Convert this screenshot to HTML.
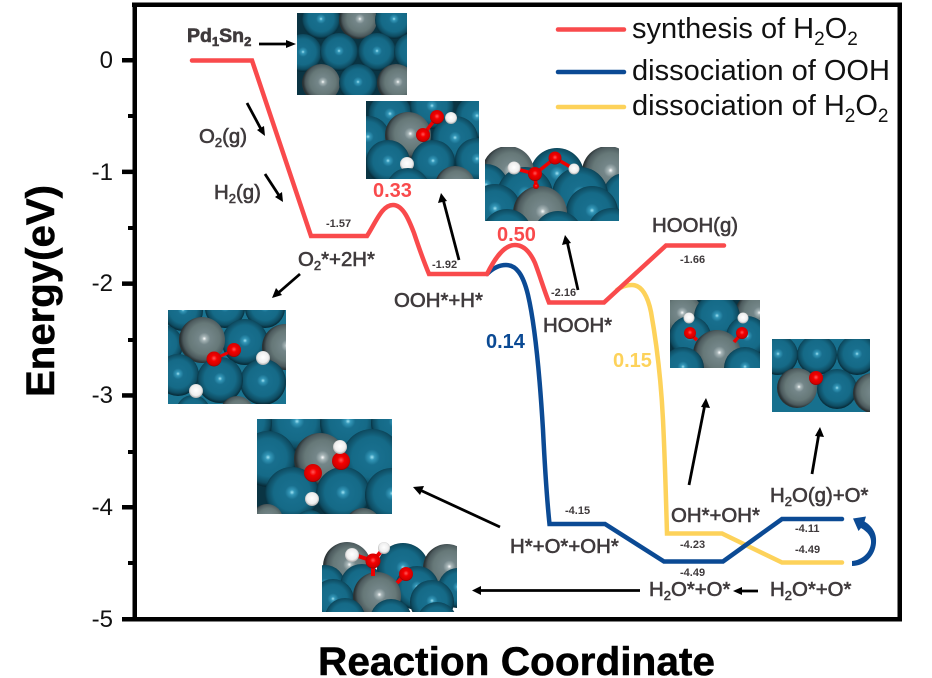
<!DOCTYPE html>
<html><head><meta charset="utf-8"><style>
html,body{margin:0;padding:0;background:#fff}
svg{display:block}
text{font-family:"Liberation Sans",sans-serif}
.l{font-size:20.4px;fill:#3f3a3c;stroke:#3f3a3c;stroke-width:.6}
.v{font-size:11px;font-weight:bold;fill:#3f3a3c}
.b{font-size:20px;font-weight:bold}
.k{font-size:24px;fill:#111;text-anchor:end}
.lg{font-size:29px;fill:#111}
.t{fill:url(#gt)}.g{fill:url(#gg)}.r{fill:url(#gr)}.w{fill:url(#gw)}
.ar{stroke:#000;stroke-width:2.8;fill:none}
</style></head><body>
<svg width="932" height="678" viewBox="0 0 932 678" xmlns="http://www.w3.org/2000/svg">
<defs>
<radialGradient id="gt" cx=".5" cy=".47" r=".52"><stop offset="0" stop-color="#9fe3f3"/><stop offset=".09" stop-color="#3497b8"/><stop offset=".25" stop-color="#186f8e"/><stop offset=".65" stop-color="#156a87"/><stop offset=".88" stop-color="#0e4c62"/><stop offset="1" stop-color="#072a37"/></radialGradient>
<radialGradient id="gg" cx=".55" cy=".47" r=".52"><stop offset="0" stop-color="#fff"/><stop offset=".09" stop-color="#a7b5b7"/><stop offset=".25" stop-color="#748689"/><stop offset=".65" stop-color="#667878"/><stop offset=".88" stop-color="#4c5a5d"/><stop offset="1" stop-color="#2a3234"/></radialGradient>
<radialGradient id="gr" cx=".5" cy=".45" r=".55"><stop offset="0" stop-color="#ff5a5a"/><stop offset=".35" stop-color="#f40000"/><stop offset=".85" stop-color="#d00000"/><stop offset="1" stop-color="#8a0000"/></radialGradient>
<radialGradient id="gw" cx=".5" cy=".45" r=".55"><stop offset="0" stop-color="#fff"/><stop offset=".7" stop-color="#eee"/><stop offset="1" stop-color="#a9a9a9"/></radialGradient>
<clipPath id="c1"><rect x="297" y="13" width="110" height="82"/></clipPath>
<clipPath id="c2"><rect x="366" y="101" width="113" height="78"/></clipPath>
<clipPath id="c3"><rect x="485" y="147" width="134" height="74"/></clipPath>
<clipPath id="c4"><rect x="670" y="300" width="90" height="68"/></clipPath>
<clipPath id="c5"><rect x="772" y="339" width="98" height="73"/></clipPath>
<clipPath id="c6"><rect x="168" y="310" width="118" height="94"/></clipPath>
<clipPath id="c7"><rect x="257" y="419" width="135" height="95"/></clipPath>
<clipPath id="c8"><rect x="322" y="542" width="135" height="70"/></clipPath>
</defs>

<!-- frame -->
<g fill="#000">
<rect x="132" y="2.5" width="770" height="4.5"/>
<rect x="132.5" y="3" width="4.5" height="618"/>
<rect x="897.5" y="3" width="4.5" height="618"/>
<rect x="122" y="617" width="780" height="4.5"/>
<rect x="122" y="58" width="11" height="4.5"/>
<rect x="122" y="169.6" width="11" height="4.5"/>
<rect x="122" y="281.4" width="11" height="4.5"/>
<rect x="122" y="393.2" width="11" height="4.5"/>
<rect x="122" y="505" width="11" height="4.5"/>
<rect x="128" y="114" width="5" height="4"/>
<rect x="128" y="226" width="5" height="4"/>
<rect x="128" y="338" width="5" height="4"/>
<rect x="128" y="450" width="5" height="4"/>
<rect x="128" y="561" width="5" height="4"/>
</g>
<text class="k" x="113" y="68">0</text>
<text class="k" x="113" y="180">-1</text>
<text class="k" x="113" y="291">-2</text>
<text class="k" x="113" y="403">-3</text>
<text class="k" x="113" y="515">-4</text>
<text class="k" x="113" y="627">-5</text>
<text transform="translate(54,397) rotate(-90)" font-size="40" font-weight="bold" fill="#000" stroke="#000" stroke-width=".5" textLength="212" lengthAdjust="spacingAndGlyphs">Energy(eV)</text>
<text x="318" y="675" font-size="40" font-weight="bold" fill="#000" stroke="#000" stroke-width=".5" textLength="397" lengthAdjust="spacingAndGlyphs">Reaction Coordinate</text>

<!-- legend -->
<g stroke-width="4.5" stroke-linecap="round">
<line x1="558" y1="29.5" x2="624" y2="29.5" stroke="#f94a4c"/>
<line x1="558" y1="72" x2="624" y2="72" stroke="#0b4a94"/>
<line x1="558" y1="107" x2="624" y2="107" stroke="#fdd25a"/>
</g>
<text class="lg" x="632" y="38">synthesis of H<tspan font-size="19" dy="7">2</tspan><tspan dy="-7">O</tspan><tspan font-size="19" dy="7">2</tspan></text>
<text class="lg" x="632" y="80">dissociation of OOH</text>
<text class="lg" x="632" y="115">dissociation of H<tspan font-size="19" dy="7">2</tspan><tspan dy="-7">O</tspan><tspan font-size="19" dy="7">2</tspan></text>

<!-- curves -->
<g fill="none" stroke-width="4.5" stroke-linejoin="miter" stroke-linecap="round">
<path stroke="#fdd25a" d="M617 290C622 286 627 285 632 285C642 285 648 297 651 312C656 340 661 380 663 420C665 460 666 500 667 533.5H722L782 562.5H842"/>
<path stroke="#0b4a94" d="M487 274C493 268 499 265 506 265C516 265 523 274 528 295C535 325 540 380 543 430C545 470 547 500 549.5 524H605L664 561.5H723L782 519H842"/>
<path stroke="#f94a4c" d="M192 60.5H252L311 236H367C376 222 382 205 393 205C403 205 409 220 414 233C419 248 424 262 429 274H487C495 258 504 245 515 245C525 245 531 254 535 263C540 276 544 290 549 302.5H604L666 245.5H724"/>
</g>

<!-- thumbnail 1 -->
<g clip-path="url(#c1)"><rect x="297" y="13" width="110" height="82" fill="#0a3443"/>
<circle class="t" cx="321" cy="20" r="19"/><circle class="g" cx="358" cy="20" r="19"/><circle class="t" cx="394" cy="20" r="19"/>
<circle class="t" cx="303" cy="53" r="19"/><circle class="t" cx="339" cy="52" r="19"/><circle class="t" cx="377" cy="52" r="19"/><circle class="t" cx="413" cy="52" r="19"/>
<circle class="g" cx="321" cy="83" r="19"/><circle class="t" cx="358" cy="83" r="19"/><circle class="g" cx="396" cy="83" r="19"/></g>

<!-- thumbnail 2 -->
<g clip-path="url(#c2)"><rect x="366" y="101" width="113" height="78" fill="#0a3443"/>
<circle class="t" cx="390" cy="115" r="22"/><circle class="t" cx="432" cy="107" r="22"/><circle class="t" cx="477" cy="117" r="22"/>
<circle class="t" cx="368" cy="138" r="22"/><circle class="t" cx="455" cy="139" r="23"/><circle class="g" cx="408" cy="135" r="23"/>
<circle class="t" cx="388" cy="162" r="22"/><circle class="t" cx="433" cy="162" r="22"/><circle class="t" cx="477" cy="160" r="22"/>
<circle class="w" cx="407" cy="164" r="7"/>
<circle class="t" cx="408" cy="190" r="22"/><circle class="g" cx="455" cy="186" r="20"/>
<line x1="423" y1="135" x2="437" y2="117" stroke="#e00" stroke-width="3.5"/>
<circle class="w" cx="451" cy="118" r="6"/><circle class="r" cx="437" cy="117" r="7"/><circle class="r" cx="423" cy="135" r="7"/></g>

<!-- thumbnail 3 -->
<g clip-path="url(#c3)">
<circle class="t" cx="557" cy="175" r="27"/><circle class="g" cx="508" cy="172" r="26"/><circle class="g" cx="608" cy="172" r="26"/>
<circle class="t" cx="486" cy="186" r="22"/><circle class="t" cx="625" cy="195" r="22"/>
<circle class="t" cx="525" cy="195" r="28"/><circle class="t" cx="580" cy="195" r="28"/>
<circle class="t" cx="495" cy="210" r="26"/><circle class="t" cx="592" cy="212" r="26"/><circle class="g" cx="540" cy="213" r="27"/>
<circle class="t" cx="507" cy="234" r="25"/><circle class="t" cx="558" cy="236" r="25"/><circle class="t" cx="612" cy="233" r="25"/>
<path d="M513 168L535 174L555 158L574 169M535 174L536 186" stroke="#e00" stroke-width="3.5" fill="none"/>
<circle class="w" cx="514" cy="168" r="6.5"/><circle class="w" cx="574" cy="169" r="5.5"/><circle class="r" cx="555" cy="158" r="6.5"/><circle class="r" cx="535" cy="174" r="7"/><circle class="r" cx="536" cy="186" r="3"/></g>

<!-- thumbnail 4 -->
<g clip-path="url(#c4)"><rect x="670" y="300" width="90" height="68" fill="#0a3443"/>
<circle class="g" cx="680" cy="314" r="22"/><circle class="g" cx="757" cy="314" r="22"/><circle class="t" cx="717" cy="317" r="23"/>
<circle class="t" cx="690" cy="337" r="21"/><circle class="t" cx="747" cy="337" r="21"/>
<circle class="g" cx="717" cy="354" r="24"/><circle class="t" cx="683" cy="368" r="21"/><circle class="t" cx="745" cy="368" r="21"/>
<path d="M689 333L697 340M742 333L734 342" stroke="#e00" stroke-width="3.5"/>
<circle class="w" cx="689" cy="318" r="5.5"/><circle class="w" cx="743" cy="318" r="5.5"/><circle class="r" cx="690" cy="333" r="6"/><circle class="r" cx="742" cy="333" r="6"/></g>

<!-- thumbnail 5 -->
<g clip-path="url(#c5)"><rect x="772" y="339" width="98" height="73" fill="#17708e"/>
<circle class="t" cx="778" cy="355" r="20"/><circle class="t" cx="817" cy="355" r="20"/><circle class="t" cx="857" cy="355" r="20"/>
<circle class="t" cx="837" cy="389" r="20"/><circle class="g" cx="797" cy="388" r="20"/><circle class="g" cx="873" cy="393" r="20"/>
<circle class="r" cx="816" cy="378" r="7"/></g>

<!-- thumbnail 6 -->
<g clip-path="url(#c6)"><rect x="168" y="310" width="118" height="94" fill="#1a7390"/>
<circle class="t" cx="183" cy="311" r="20"/><circle class="t" cx="225" cy="308" r="20"/><circle class="t" cx="265" cy="308" r="20"/>
<circle class="t" cx="163" cy="345" r="20"/><circle class="t" cx="245" cy="342" r="23"/><circle class="g" cx="202" cy="340" r="23"/><circle class="g" cx="285" cy="347" r="23"/>
<circle class="t" cx="178" cy="375" r="21"/><circle class="t" cx="263" cy="382" r="23"/><circle class="t" cx="220" cy="380" r="23"/>
<circle class="t" cx="193" cy="412" r="17"/><circle class="g" cx="237" cy="413" r="17"/>
<line x1="214" y1="359" x2="234" y2="350" stroke="#e00" stroke-width="3"/>
<circle class="r" cx="214" cy="359" r="7.5"/><circle class="r" cx="234" cy="350" r="7"/><circle class="w" cx="263" cy="358" r="7"/><circle class="w" cx="196" cy="391" r="7"/></g>

<!-- thumbnail 7 -->
<g clip-path="url(#c7)"><rect x="257" y="419" width="135" height="95" fill="#0a3443"/>
<circle class="t" cx="297" cy="423" r="28"/><circle class="t" cx="348" cy="423" r="28"/><circle class="t" cx="248" cy="423" r="24"/><circle class="t" cx="395" cy="423" r="24"/>
<circle class="t" cx="268" cy="459" r="28"/><circle class="t" cx="372" cy="459" r="30"/><circle class="g" cx="320" cy="459" r="26"/>
<circle class="t" cx="292" cy="494" r="27"/><circle class="t" cx="343" cy="494" r="27"/><circle class="t" cx="392" cy="495" r="27"/>
<circle class="g" cx="267" cy="520" r="16"/><circle class="t" cx="310" cy="526" r="16"/><circle class="g" cx="363" cy="526" r="18"/>
<circle class="r" cx="341" cy="461" r="9"/><circle class="w" cx="340" cy="447" r="7"/><circle class="r" cx="313" cy="473" r="9"/><circle class="w" cx="312" cy="499" r="7"/></g>

<!-- thumbnail 8 -->
<g clip-path="url(#c8)">
<circle class="t" cx="403" cy="569" r="26"/><circle class="g" cx="347" cy="566" r="24"/><circle class="g" cx="447" cy="568" r="24"/>
<circle class="t" cx="325" cy="585" r="20"/><circle class="t" cx="362" cy="586" r="22"/><circle class="t" cx="417" cy="588" r="22"/><circle class="t" cx="458" cy="588" r="20"/>
<circle class="t" cx="333" cy="600" r="21"/><circle class="g" cx="377" cy="596" r="24"/><circle class="t" cx="432" cy="602" r="22"/>
<circle class="t" cx="345" cy="618" r="20"/><circle class="t" cx="391" cy="620" r="21"/><circle class="t" cx="437" cy="622" r="20"/><circle class="g" cx="393" cy="628" r="14"/>
<path d="M352 554L373 561L384 548M373 561V576M406 574L397 583" stroke="#e00" stroke-width="4" fill="none"/>
<circle class="w" cx="352" cy="555" r="7"/><circle class="w" cx="384" cy="548" r="6"/><circle class="r" cx="373" cy="561" r="7.5"/><circle class="r" cx="406" cy="574" r="7"/></g>

<!-- arrows -->
<g class="ar">
<line x1="259" y1="44" x2="288" y2="44"/>
<line x1="247" y1="103" x2="262" y2="131"/>
<line x1="265" y1="174" x2="280" y2="197"/>
<line x1="459" y1="260" x2="443" y2="199"/>
<line x1="578" y1="290" x2="567" y2="241"/>
<line x1="300" y1="274" x2="277" y2="294"/>
<line x1="500" y1="527" x2="420" y2="490"/>
<line x1="640" y1="590.5" x2="479" y2="590.5"/>
<line x1="758" y1="591" x2="740" y2="591"/>
<line x1="689" y1="485" x2="705" y2="404"/>
<line x1="812" y1="474" x2="819" y2="433"/>
</g>
<g fill="#000">
<path d="M296 44L286 40V48Z"/>
<path d="M265 136L257 130L264 126Z"/>
<path d="M283 202L275 197L282 192Z"/>
<path d="M441 193L438 203L447 201Z"/>
<path d="M565 235L562 245L571 243Z"/>
<path d="M272 298L282 295L276 288Z"/>
<path d="M413 487L424 486L420 495Z"/>
<path d="M472 590.5L481 586V595Z"/>
<path d="M733 591L742 587V595Z"/>
<path d="M706 398L701 407L710 408Z"/>
<path d="M820 427L815 436L824 437Z"/>
</g>
<path fill="#0b4a94" d="M852 561C862 560 870 553 871 543C871.5 537 868 532 861 528L858.5 531L853 518.5L866 516.5L864.5 521.5C872 526 877 533 876 543C875 556 865 566 852 566Z"/>

<!-- labels -->
<text class="l" x="187" y="42" font-weight="bold" style="font-size:19.5px">Pd<tspan font-size="13" dy="4">1</tspan><tspan dy="-4">Sn</tspan><tspan font-size="13" dy="4">2</tspan></text>
<text class="l" x="199" y="143">O<tspan font-size="13" dy="4">2</tspan><tspan dy="-4">(g)</tspan></text>
<text class="l" x="214" y="199">H<tspan font-size="13" dy="4">2</tspan><tspan dy="-4">(g)</tspan></text>
<text class="l" x="298" y="266">O<tspan font-size="13" dy="4">2</tspan><tspan dy="-4">*+2H*</tspan></text>
<text class="l" x="394" y="307">OOH*+H*</text>
<text class="l" x="543" y="332">HOOH*</text>
<text class="l" x="652" y="232">HOOH(g)</text>
<text class="l" x="671" y="522">OH*+OH*</text>
<text class="l" x="770" y="502">H<tspan font-size="13" dy="4">2</tspan><tspan dy="-4">O(g)+O*</tspan></text>
<text class="l" x="510" y="553">H*+O*+OH*</text>
<text class="l" x="649" y="596">H<tspan font-size="13" dy="4">2</tspan><tspan dy="-4">O*+O*</tspan></text>
<text class="l" x="770" y="596">H<tspan font-size="13" dy="4">2</tspan><tspan dy="-4">O*+O*</tspan></text>

<text class="b" x="373" y="197" fill="#f94a4c">0.33</text>
<text class="b" x="497" y="241" fill="#f94a4c">0.50</text>
<text class="b" x="486" y="348" fill="#0b4a94">0.14</text>
<text class="b" x="613" y="367" fill="#fdd25a">0.15</text>

<text class="v" x="326" y="227">-1.57</text>
<text class="v" x="432" y="268">-1.92</text>
<text class="v" x="551" y="296">-2.16</text>
<text class="v" x="680" y="263">-1.66</text>
<text class="v" x="565" y="514">-4.15</text>
<text class="v" x="680" y="548">-4.23</text>
<text class="v" x="680" y="576">-4.49</text>
<text class="v" x="795" y="532">-4.11</text>
<text class="v" x="795" y="553">-4.49</text>
</svg>
</body></html>
